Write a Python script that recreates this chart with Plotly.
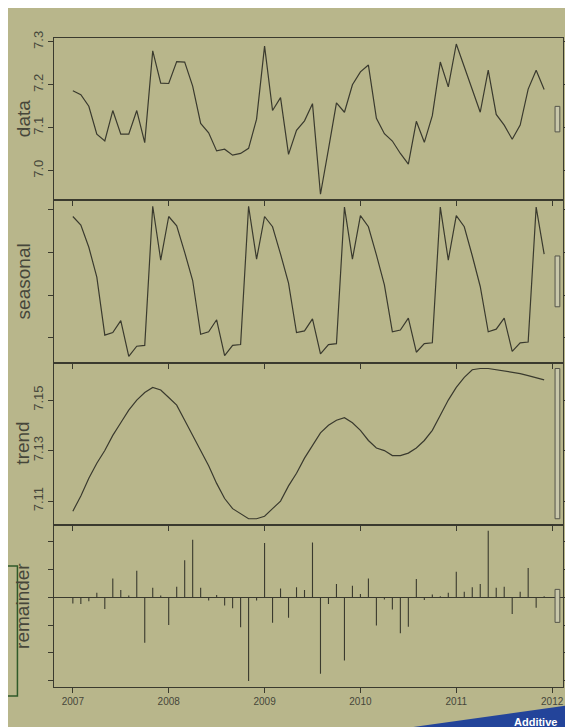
import plotly.graph_objects as go
from plotly.subplots import make_subplots

# ---------------- data ----------------
start_year = 2007
year_ticks = [2007, 2008, 2009, 2010, 2011, 2012]
year_labels = ["2007", "2008", "2009", "2010", "2011", "2012"]
panel_names = ["data", "seasonal", "trend", "remainder"]

data_values = [
    7.186, 7.177, 7.150, 7.085, 7.069, 7.140, 7.085, 7.085, 7.140, 7.065, 7.279, 7.204,
    7.203, 7.254, 7.253, 7.197, 7.110, 7.088, 7.046, 7.050, 7.036, 7.040, 7.052, 7.120,
    7.290, 7.140, 7.170, 7.038, 7.094, 7.116, 7.156, 6.945, 7.050, 7.158, 7.136, 7.200,
    7.230, 7.246, 7.122, 7.086, 7.069, 7.040, 7.015, 7.115, 7.066, 7.128, 7.253, 7.195,
    7.295, 7.243, 7.190, 7.136, 7.234, 7.131, 7.106, 7.073, 7.106, 7.190, 7.234, 7.189,
]

seasonal_values = [
    0.092, 0.082, 0.056, 0.021, -0.047, -0.044, -0.030, -0.072, -0.060, -0.059, 0.104, 0.041,
    0.092, 0.081, 0.050, 0.017, -0.046, -0.043, -0.029, -0.071, -0.059, -0.058, 0.104, 0.042,
    0.092, 0.080, 0.048, 0.014, -0.044, -0.042, -0.028, -0.069, -0.058, -0.057, 0.103, 0.042,
    0.093, 0.080, 0.047, 0.012, -0.043, -0.041, -0.027, -0.067, -0.057, -0.056, 0.103, 0.041,
    0.093, 0.080, 0.046, 0.010, -0.043, -0.040, -0.027, -0.066, -0.056, -0.055, 0.103, 0.048,
]

trend_values = [
    7.106, 7.112, 7.119, 7.125, 7.130, 7.136, 7.141, 7.146, 7.150, 7.153, 7.155, 7.154,
    7.151, 7.148, 7.142, 7.136, 7.130, 7.124, 7.117, 7.111, 7.107, 7.105, 7.103, 7.103,
    7.104, 7.107, 7.110, 7.116, 7.121, 7.127, 7.132, 7.137, 7.140, 7.142, 7.143, 7.141,
    7.138, 7.134, 7.131, 7.130, 7.128, 7.128, 7.129, 7.131, 7.134, 7.138, 7.144, 7.150,
    7.155, 7.159, 7.162, 7.1625, 7.1625, 7.162, 7.1617, 7.1612, 7.1605, 7.1597, 7.159, 7.158,
]

remainder_values = [
    -0.011, -0.012, -0.007, 0.008, -0.021, 0.034, 0.013, 0.003, 0.048, -0.082, 0.017, 0.003,
    -0.050, 0.019, 0.067, 0.104, 0.017, -0.006, 0.004, -0.015, -0.020, -0.054, -0.151, -0.006,
    0.098, -0.046, 0.016, -0.037, 0.018, 0.013, 0.099, -0.138, -0.012, 0.024, -0.114, 0.021,
    0.006, 0.034, -0.051, -0.004, -0.022, -0.065, -0.053, 0.033, -0.005, 0.005, 0.002, 0.008,
    0.046, 0.010, 0.018, 0.024, 0.120, 0.017, 0.019, -0.030, 0.010, 0.053, -0.019, 0.002,
]

y_dticks = [0.1, 0.05, 0.02, 0.05]
y_tick0 = [7.0, 0.0, 7.11, 0.0]
y_formats = [".1f", ".2f", ".2f", ".2f"]
show_y_labels = [True, False, True, False]

# ---------------- styling ----------------
W, H = 573, 727
ML, MR, MT, MB = 46, 12, 30, 48
BG = "#b8b68b"
INK = "#3a3a2e"
TXT = "#46463a"
FONT = "Liberation Sans, Arial, sans-serif"

n = len(data_values)
x = [start_year + i / 12 for i in range(n)]
xspan = x[-1] - x[0]
xr = [x[0] - 0.04 * xspan, x[-1] + 0.04 * xspan]

series = [data_values, seasonal_values, trend_values, remainder_values]

fig = make_subplots(rows=4, cols=1, shared_xaxes=True, vertical_spacing=0)

for r, vals in enumerate(series[:3], start=1):
    fig.add_trace(go.Scatter(x=x, y=vals, mode="lines",
                             line=dict(color=INK, width=1.2),
                             hoverinfo="skip", showlegend=False), row=r, col=1)

# remainder as vertical spikes from zero (type "h")
spk_x, spk_y = [], []
for xi, ri in zip(x, remainder_values):
    spk_x += [xi, xi, None]
    spk_y += [0, ri, None]
fig.add_trace(go.Scatter(x=spk_x, y=spk_y, mode="lines",
                         line=dict(color=INK, width=1.1),
                         hoverinfo="skip", showlegend=False), row=4, col=1)

# range bars (equal height in data units on every panel)
ranges = [(min(v), max(v)) for v in series]
mx = min(hi - lo for lo, hi in ranges)
dx = (xr[1] - xr[0]) / 64

for r, (lo, hi) in enumerate(ranges, start=1):
    span = hi - lo
    yr = [lo - 0.04 * span, hi + 0.04 * span]
    ax = "" if r == 1 else str(r)
    fig.update_yaxes(row=r, col=1, range=yr, dtick=y_dticks[r - 1],
                     tick0=y_tick0[r - 1], ticks="outside", ticklen=5, tickwidth=1,
                     tickcolor=INK, showline=True, linecolor=INK, linewidth=1.2,
                     mirror="ticks", showgrid=False, zeroline=(r == 4),
                     zerolinecolor=INK, zerolinewidth=1.2,
                     showticklabels=show_y_labels[r - 1], tickangle=-90,
                     tickfont=dict(family=FONT, size=13, color=TXT),
                     tickformat=y_formats[r - 1])
    fig.update_xaxes(row=r, col=1, range=xr, tickvals=year_ticks,
                     ticktext=year_labels, ticks="outside", ticklen=5,
                     tickwidth=1, tickcolor=INK, showline=True, linecolor=INK,
                     linewidth=1.2, mirror=True, showgrid=False, zeroline=False,
                     showticklabels=(r == 4),
                     tickfont=dict(family=FONT, size=10, color=TXT))
    mid = (lo + hi) / 2
    fig.add_shape(type="rect", xref="x" + ax, yref="y" + ax,
                  x0=xr[1] - dx, x1=xr[1] - 0.4 * dx,
                  y0=mid - mx / 2, y1=mid + mx / 2,
                  fillcolor="#c8c7aa", line=dict(color="#55554a", width=1))

# panel titles
plot_h = H - MT - MB
for r, name in enumerate(panel_names, start=1):
    dom = fig.layout["yaxis" if r == 1 else "yaxis%d" % r].domain
    fig.add_annotation(text=name, xref="paper", yref="paper", x=0,
                       y=(dom[0] + dom[1]) / 2, xshift=-(ML - 15),
                       xanchor="center", yanchor="middle", textangle=-90,
                       showarrow=False,
                       font=dict(family=FONT, size=19, color=TXT))

plot_w = W - ML - MR


def px(xp):
    return (xp - ML) / plot_w


def py(yp):
    return (H - MB - yp) / plot_h


# slide decorations visible in the photo
fig.add_shape(type="path", xref="paper", yref="paper",
              path="M %f %f L %f %f L %f %f L %f %f Z" % (
                  px(330), py(730), px(575), py(696), px(575), py(730), px(330), py(730)),
              fillcolor="#23449a", line=dict(width=0), layer="above")
fig.add_annotation(text="<b>Additive</b>", xref="paper", yref="paper",
                   x=px(556), y=py(721), xanchor="right", yanchor="bottom",
                   showarrow=False, borderpad=0,
                   font=dict(family=FONT, size=11, color="white"))
fig.add_shape(type="rect", xref="paper", yref="paper",
              x0=px(-4), x1=px(9), y0=py(688), y1=py(558),
              line=dict(color="#2f5a2a", width=1.5), fillcolor="rgba(0,0,0,0)")

fig.update_layout(width=W, height=H, margin=dict(l=ML, r=MR, t=MT, b=MB),
                  paper_bgcolor=BG, plot_bgcolor="rgba(0,0,0,0)",
                  showlegend=False)

fig.write_html("out.html")
